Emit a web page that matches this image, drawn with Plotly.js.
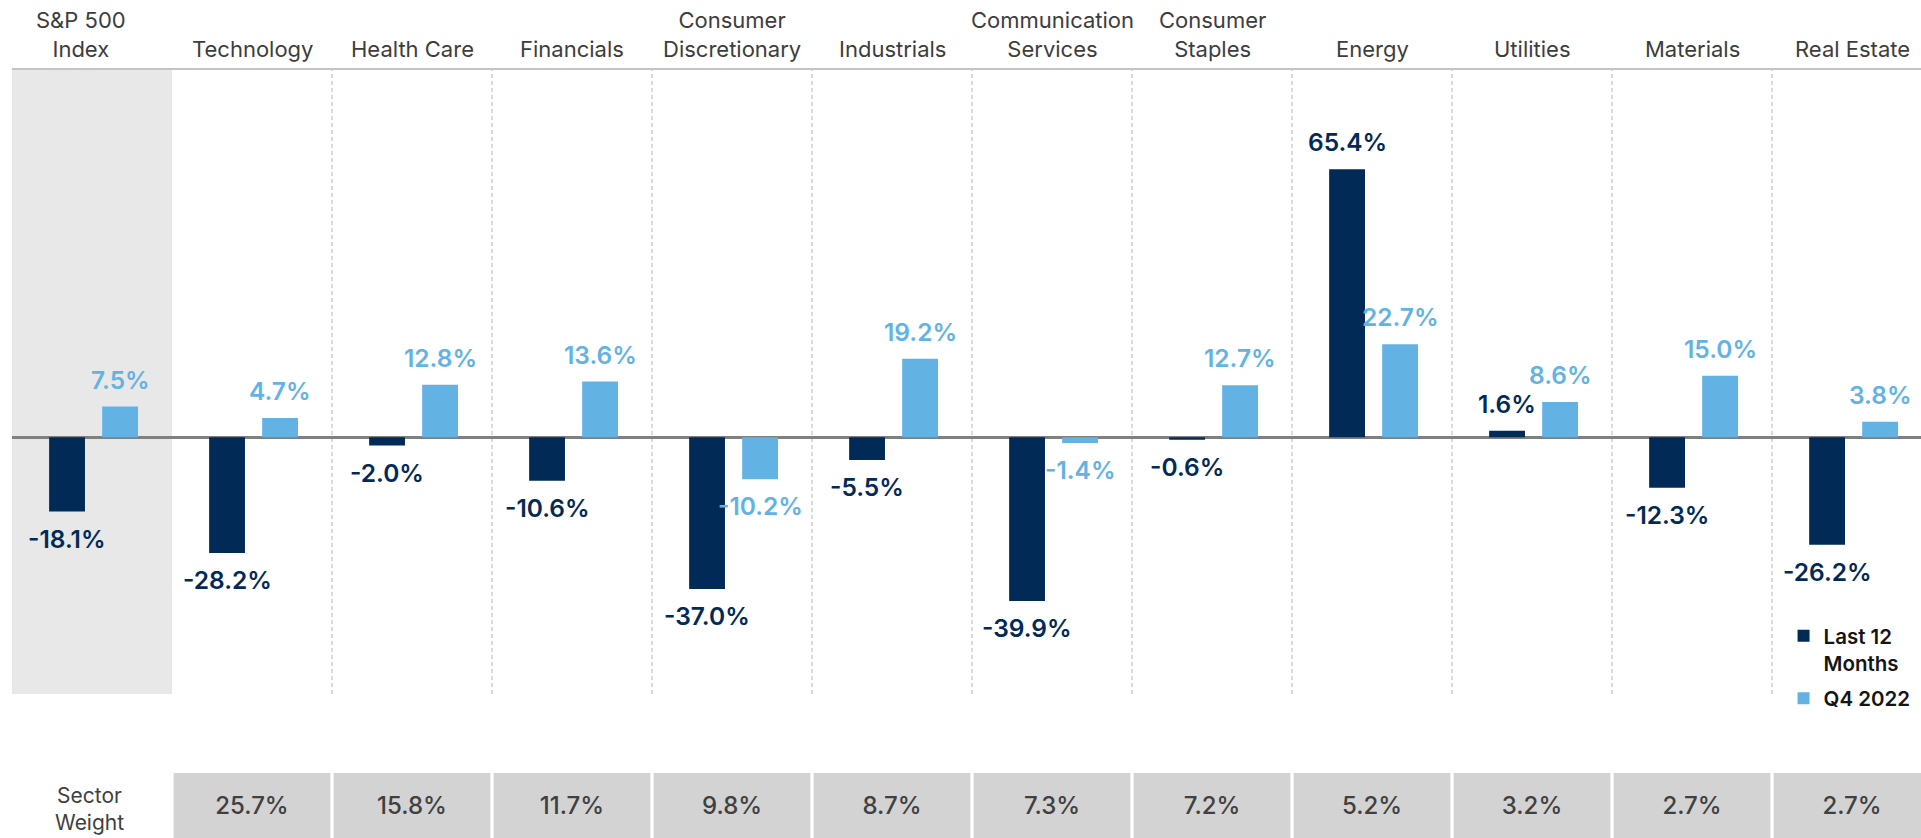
<!DOCTYPE html>
<html>
<head>
<meta charset="utf-8">
<script src="https://cdn.plot.ly/plotly-3.0.1.min.js"></script>
<style>
  html, body { margin: 0; padding: 0; background: #ffffff; }
  #chart { width: 1921px; height: 838px; }
</style>
</head>
<body>
<div id="chart"></div>
<script>
// ---- Data ----
const categories = ['S&P 500<br>Index', 'Technology', 'Health Care', 'Financials',
  'Consumer<br>Discretionary', 'Industrials', 'Communication<br>Services',
  'Consumer<br>Staples', 'Energy', 'Utilities', 'Materials', 'Real Estate'];
const last12Months = [-18.1, -28.2, -2.0, -10.6, -37.0, -5.5, -39.9, -0.6, 65.4, 1.6, -12.3, -26.2];
const q4_2022 = [7.5, 4.7, 12.8, 13.6, -10.2, 19.2, -1.4, 12.7, 22.7, 8.6, 15.0, 3.8];
const sectorWeights = [null, 25.7, 15.8, 11.7, 9.8, 8.7, 7.3, 7.2, 5.2, 3.2, 2.7, 2.7];
const seriesNames = ['Last 12<br>Months', 'Q4 2022'];
const weightRowLabel = 'Sector<br>Weight';

// ---- Style ----
const FONT = 'Inter, "Open Sans", sans-serif';
const DARK = '#022a57';
const LIGHT = '#62b3e4';
const BAR_W = 0.224;
const DARK_OFF = -0.268;
const LIGHT_OFF = 0.0635;
const LABEL_SHIFT = 27;

const idx = categories.map((_, i) => i);
const fmt = v => v.toFixed(1) + '%';

const traces = [
  {
    type: 'bar', name: seriesNames[0], legendgroup: 'a', x: idx, y: last12Months,
    width: BAR_W, offset: DARK_OFF, marker: {color: DARK}, hoverinfo: 'skip'
  },
  {
    type: 'bar', name: seriesNames[1], legendgroup: 'b', x: idx, y: q4_2022,
    width: BAR_W, offset: LIGHT_OFF, marker: {color: LIGHT}, hoverinfo: 'skip'
  }
];

const wIdx = idx.filter(i => sectorWeights[i] !== null);
traces.push({
  type: 'bar', x: wIdx, y: wIdx.map(() => 1), yaxis: 'y2',
  width: 0.98, offset: -0.49, marker: {color: '#d3d3d3'},
  text: wIdx.map(i => fmt(sectorWeights[i])), textposition: 'inside',
  insidetextanchor: 'middle', textangle: 0,
  textfont: {family: FONT, size: 24, color: '#404040', weight: 500},
  showlegend: false, hoverinfo: 'skip'
});

const annotations = [];
// category labels on top
idx.forEach(i => {
  annotations.push({
    x: i, xref: 'x', y: 1, yref: 'paper', yanchor: 'bottom', xanchor: 'center',
    yshift: 6, xshift: i === 0 ? -11 : 0,
    text: categories[i], showarrow: false, align: 'center',
    font: {family: FONT, size: 22, color: '#3d3d3d'}
  });
});
// value labels
[[last12Months, DARK_OFF, DARK], [q4_2022, LIGHT_OFF, LIGHT]].forEach(([arr, off, col]) => {
  arr.forEach((v, i) => {
    annotations.push({
      x: i + off + BAR_W / 2, xref: 'x', y: v, yref: 'y',
      xanchor: 'center', yanchor: 'middle',
      yshift: v >= 0 ? LABEL_SHIFT : -LABEL_SHIFT,
      text: fmt(v), showarrow: false,
      font: {family: FONT, size: 24.5, color: col, weight: 600}
    });
  });
});
// sector weight row label
annotations.push({
  x: 0, xref: 'x', y: 0.5, yref: 'y2', xanchor: 'center', yanchor: 'middle',
  xshift: -3, yshift: -3, text: weightRowLabel, showarrow: false, align: 'center',
  font: {family: FONT, size: 21, color: '#404040'}
});

const shapes = [
  {
    type: 'rect', xref: 'x', yref: 'y domain', x0: -0.5, x1: 0.5, y0: 0, y1: 1,
    fillcolor: '#e8e8e8', line: {width: 0}, layer: 'below'
  }
];
for (let i = 1; i < categories.length - 1; i++) {
  shapes.push({
    type: 'line', xref: 'x', yref: 'y domain', x0: i + 0.5, x1: i + 0.5, y0: 0, y1: 1,
    line: {color: '#b5b5b5', width: 1, dash: '4px,3px'}, layer: 'below'
  });
}

const layout = {
  width: 1921, height: 838,
  margin: {l: 12, r: 0, t: 70, b: 0, pad: 0},
  paper_bgcolor: '#ffffff', plot_bgcolor: 'rgba(0,0,0,0)',
  font: {family: FONT},
  barmode: 'overlay',
  showlegend: true,
  legend: {
    x: 0.928, xanchor: 'left', y: 0.289, yanchor: 'top',
    valign: 'top', bgcolor: 'rgba(0,0,0,0)', borderwidth: 0,
    font: {family: FONT, size: 20.5, color: '#151515', weight: 600},
    traceorder: 'grouped', tracegroupgap: 6
  },
  xaxis: {
    range: [-0.5, 11.431], side: 'top', anchor: 'y',
    showline: true, linecolor: '#c4c4c4', linewidth: 2,
    showgrid: false, zeroline: false, showticklabels: false, ticks: '', fixedrange: true
  },
  yaxis: {
    domain: [0.1875, 1], range: [-62.6, 89.6],
    showgrid: false, zeroline: true, zerolinecolor: '#808080', zerolinewidth: 2.5,
    showticklabels: false, ticks: '', showline: false, fixedrange: true
  },
  yaxis2: {
    domain: [0, 0.0846], range: [0, 1], anchor: 'x',
    showgrid: false, zeroline: false, showticklabels: false, ticks: '', fixedrange: true
  },
  shapes: shapes,
  annotations: annotations,
  uniformtext: {mode: false}
};

Plotly.newPlot('chart', traces, layout, {displayModeBar: false, staticPlot: true});
</script>
</body>
</html>
